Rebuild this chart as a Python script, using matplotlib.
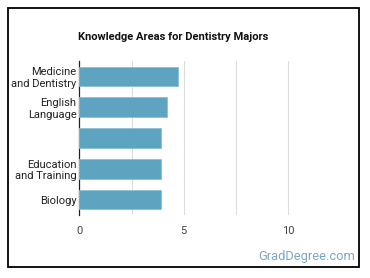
import matplotlib.pyplot as plt
from matplotlib.patches import Rectangle

plt.rcParams['font.family'] = ['Roboto', 'DejaVu Sans']

categories = ["Medicine\nand Dentistry", "English\nLanguage", "", "Education\nand Training", "Biology"]
values = [4.7, 4.2, 3.9, 3.9, 3.9]
xticks = [0, 5, 10]

fig = plt.figure(figsize=(3.7, 2.78), dpi=100)
ax = fig.add_axes([0.2143, 0.2266, 0.706, 0.554])

pos = list(range(len(categories)))
ax.barh(pos, values, height=0.63, color="#5ea3bf", edgecolor="#8cc0d4", linewidth=0.6, zorder=3)
ax.set_yticks(pos)
ax.set_yticklabels(categories, fontsize=8, color="#222222", linespacing=1.2)
ax.set_ylim(len(categories) - 0.5, -0.5)
ax.set_xlim(0, 12.5)
ax.set_xticks(xticks)
ax.set_xticklabels([str(t) for t in xticks], fontsize=8, color="#444444")
for g in [2.5, 5, 7.5, 10]:
    ax.axvline(g, color="#dddddd", linewidth=0.8, zorder=1)

for s in ["top", "right", "bottom"]:
    ax.spines[s].set_visible(False)
ax.spines["left"].set_color("#222222")
ax.spines["left"].set_linewidth(0.9)
ax.tick_params(axis="y", length=0, pad=2)
ax.tick_params(axis="x", length=0, pad=8)

fig.text(0.468, 0.867, "Knowledge Areas for Dentistry Majors", ha="center", va="center",
         fontsize=8, fontweight="bold", color="#111111")
fig.text(0.96, 0.079, "GradDegree.com", ha="right", va="center", fontsize=9.3, color="#7ba7c2")

fig.patches.append(Rectangle((8 / 370, 11 / 278), 351 / 370, 259 / 278, transform=fig.transFigure,
                             fill=False, edgecolor="black", linewidth=1.3))

fig.savefig("out.png", dpi=100)
